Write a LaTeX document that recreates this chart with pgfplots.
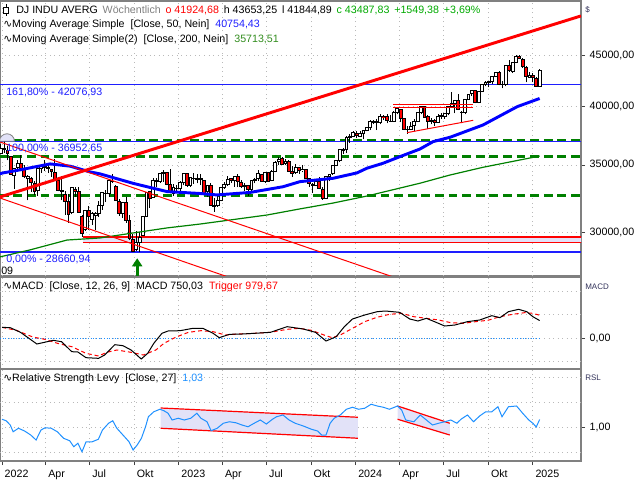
\documentclass[border=0pt]{standalone}
\usepackage{fontspec}
\setmainfont{Liberation Sans}
\newfontfamily\dejavu{DejaVu Sans}
\usepackage{pgfplots}
\usepackage{pgfplotstable}
\pgfplotsset{compat=1.18}
\usetikzlibrary{arrows.meta}

\definecolor{lav}{RGB}{226,226,248}
\definecolor{fgray}{RGB}{128,128,128}
\definecolor{dgreen}{RGB}{0,128,0}
\definecolor{hgreen}{RGB}{0,170,0}
\definecolor{ogreen}{RGB}{50,140,30}
\definecolor{dodger}{RGB}{30,144,255}
\definecolor{lblue}{RGB}{30,30,255}
\definecolor{lab}{RGB}{50,50,90}

% weekly candles, w = week index (0 = week of 3 Jan 2022)
\pgfplotstableread{
w o h l c
-1 35950 36680 35900 36338
0 36321 36953 35968 36231
1 36219 36513 35371 35912
2 35720 35760 34226 34265
3 34161 34712 33150 34725
4 34800 35407 34692 35089
5 35110 35824 34738 34738
6 34680 34988 33927 34079
7 33960 34200 32272 34059
8 33950 34067 32890 33615
9 33550 33716 32632 32944
10 33000 34835 32578 34755
11 34700 35063 34345 34861
12 34900 35372 34522 34818
13 34800 35092 34355 34721
14 34600 34675 34056 34451
15 34400 35493 33788 33811
16 33800 34066 32935 32977
17 33000 34117 32271 32899
18 32700 32934 31228 32197
19 32200 32740 30636 31262
20 31400 33213 31244 33213
21 33100 33244 32504 32900
22 32950 33273 31389 31393
23 31100 31234 29653 29888
24 30200 31519 30100 31501
25 31500 31851 30143 31097
26 30900 31420 30484 31338
27 31200 31400 30143 31288
28 31300 32238 31081 31900
29 31900 32910 31582 32845
30 32800 33043 32137 32803
31 32800 33812 32500 33761
32 33700 34281 33573 33706
33 33300 33400 32283 32283
34 32200 32360 31156 31318
35 31300 32175 31000 32151
36 32100 32509 30660 30822
37 30800 31200 29439 29590
38 29500 29900 28715 28726
39 28800 30058 28700 29297
40 29300 30039 28661 29635
41 29800 31100 29700 31083
42 31100 32889 31049 32861
43 32900 33000 31727 32403
44 32500 33987 32500 33748
45 33700 33988 33274 33746
46 33700 34365 33564 34347
47 34300 34595 33677 34430
48 34400 34430 33387 33476
49 33500 34712 32920 32920
50 32800 33537 32573 33204
51 33200 33387 32818 33147
52 33150 33740 32813 33631
53 33600 34342 33400 34303
54 34300 34300 33267 33375
55 33400 34033 33300 33978
56 33900 34335 33500 33926
57 33900 34245 33550 33869
58 33900 34257 33450 33827
59 33800 33800 32788 32817
60 32900 33400 32500 33391
61 33400 33572 31910 31910
62 31800 32420 31430 31862
63 31900 32570 31805 32238
64 32300 33274 32200 33274
65 33250 33619 33150 33485
66 33450 34082 33330 33886
67 33900 34000 33600 33809
68 33800 34104 33300 34098
69 34100 34250 33235 33674
70 33600 33800 33200 33301
71 33300 33600 33000 33427
72 33400 33450 32586 33093
73 33100 33800 32800 33763
74 33750 34000 33550 33877
75 33900 34588 33750 34299
76 34250 34300 33700 33727
77 33700 34408 33600 34408
78 34400 34450 33700 33735
79 33800 34630 33700 34509
80 34500 35300 34400 35228
81 35300 35679 35000 35460
82 35500 35679 35000 35066
83 35100 35500 35000 35281
84 35300 35400 34500 34500
85 34500 34900 34029 34347
86 34400 35070 34300 34838
87 34800 34850 34300 34577
88 34600 35000 34400 34618
89 34600 34700 33900 33964
90 33950 34000 33300 33508
91 33500 33600 32850 33408
92 33400 33900 33350 33670
93 33700 34050 33100 33127
94 33100 33300 32327 32418
95 32400 34100 32350 34061
96 34050 34300 33700 34283
97 34300 35000 34200 34947
98 34950 35400 34900 35390
99 35350 36300 35200 36246
100 36200 36400 35900 36248
101 36250 37400 36000 37306
102 37300 37600 36800 37385
103 37400 37800 37300 37690
104 37600 37800 37200 37466
105 37400 37800 37300 37593
106 37600 37900 37100 37864
107 37900 38200 37800 38109
108 38100 38800 37900 38654
109 38600 38800 38400 38671
110 38700 38900 37900 38628
111 38600 39300 38400 39131
112 39100 39200 38800 39087
113 39100 39300 38500 38723
114 38700 39200 38600 38715
115 38700 39600 38600 39475
116 39500 39900 39300 39807
117 39800 39800 38600 38904
118 38900 39000 37900 37983
119 38000 38300 37600 37986
120 38000 38600 37900 38240
121 38300 38900 37800 38676
122 38700 39500 38600 39513
123 39500 40080 39300 40004
124 40000 40100 39000 39070
125 39100 39200 38000 38686
126 38700 39000 38400 38799
127 38800 38900 38300 38589
128 38600 39300 38600 39150
129 39200 39400 38900 39119
130 39100 39400 38900 39375
131 39400 40100 39200 40001
132 40000 41400 40000 40288
133 40300 40600 39400 40590
134 40600 41200 39700 39737
135 39500 39600 38500 39498
136 39500 40700 39300 40660
137 40700 41200 40600 41175
138 41200 41600 41000 41563
139 41500 41600 40300 40345
140 40400 41400 40300 41394
141 41400 42100 41400 42063
142 42100 42400 41900 42313
143 42300 42400 41800 42353
144 42400 42900 42100 42864
145 42900 43300 42800 43276
146 43300 43400 42000 42114
147 42100 42400 41700 42052
148 42100 44000 41900 43989
149 44000 44500 43300 43445
150 43400 44300 43200 44297
151 44300 45000 44200 44911
152 44900 45070 44600 44643
153 44600 44700 43700 43828
154 43800 43900 42300 42840
155 42800 43300 42700 42992
156 43000 43200 42300 42732
157 42700 42800 41850 41938
158 41925 43653 41845 43488
}\candletab

\pgfplotsset{
  panel/.style={
    scale only axis, width=435.75pt, anchor=north west,
    xmin=-1.162, xmax=170.2,
    axis line style={draw=fgray, line width=0.9pt},
    tick align=outside, ytick pos=right, yticklabel pos=right,
    major tick length=3pt, minor tick num=0,
    tick style={draw=black!75, line width=0.6pt},
    tick label style={font=\fontsize{8}{9}\selectfont, black},
    grid=major,
    major grid style={draw=gray!55, line width=0.6pt, dash pattern=on 0.6pt off 2.8pt},
  },
  nolabelx/.style={
    xtick=\empty,
    extra x ticks={-0.571,12.29,25.29,38.43,51.57,64.43,77.43,90.57,103.71,116.71,129.71,142.86,156.0},
    extra x tick labels={},
    extra x tick style={major tick length=0pt, grid=major},
  },
}

\begin{document}
\begin{tikzpicture}[x=0.75pt, y=0.75pt, font=\fontsize{8}{9.6}\selectfont]
\path[use as bounding box] (0pt,0pt) rectangle (480pt,360pt);

% ---------- price panel ----------
\begin{axis}[panel, nolabelx, at={(0pt,359.25pt)}, height=206.25pt,
  ymode=log, ymin=27130, ymax=50970,
  ytick={30000,35000,40000,45000},
  yticklabels={{30000,00},{35000,00},{40000,00},{45000,00}},
]
\addplot[dgreen, line width=2.2pt, dash pattern=on 6.5pt off 3.7pt] coordinates {(-1.2,37010) (170.2,37010)};
\addplot[dgreen, line width=2.2pt, dash pattern=on 6.5pt off 3.7pt] coordinates {(-1.2,35679) (170.2,35679)};
\addplot[dgreen, line width=2.2pt, dash pattern=on 6.5pt off 3.7pt] coordinates {(-1.2,32600) (170.2,32600)};
\addplot[lblue, line width=0.9pt] coordinates {(-1.2,42076.93) (170.2,42076.93)};
\addplot[lblue, line width=0.9pt] coordinates {(-1.2,36952.65) (170.2,36952.65)};
\addplot[lblue, line width=0.9pt] coordinates {(-1.2,28660.94) (170.2,28660.94)};
\addplot[fill=lav, draw=none] coordinates {(23.3,29670) (171,29670) (171,29310) (23.3,29310)} --cycle;
\addplot[red, line width=0.9pt] coordinates {(23.3,29670) (171,29670)};
\addplot[red, line width=0.9pt] coordinates {(23.3,29310) (171,29310)};

\pgfplotsforeachungrouped \i in {0,...,159}{
  \pgfplotstablegetelem{\i}{w}\of\candletab \let\cw\pgfplotsretval
  \pgfplotstablegetelem{\i}{o}\of\candletab \let\co\pgfplotsretval
  \pgfplotstablegetelem{\i}{h}\of\candletab \let\ch\pgfplotsretval
  \pgfplotstablegetelem{\i}{l}\of\candletab \let\cl\pgfplotsretval
  \pgfplotstablegetelem{\i}{c}\of\candletab \let\cc\pgfplotsretval
  \ifnum\cc<\co\relax \def\cfill{red}\else \def\cfill{white}\fi
  \pgfmathsetmacro\wa{\cw-0.42}
  \pgfmathsetmacro\wb{\cw+0.42}
  \edef\next{%
    \noexpand\addplot[black, line width=0.6pt, forget plot] coordinates {(\cw,\cl) (\cw,\ch)};
    \noexpand\addplot[draw=black, fill=\cfill, line width=0.6pt, forget plot]
      coordinates {(\wa,\co) (\wb,\co) (\wb,\cc) (\wa,\cc)} --cycle;}
  \next
}

% moving averages
\addplot[dgreen, line width=0.9pt] coordinates {
(-1.2,28340) (7.7,28800) (18.6,29460) (28.3,29600) (38.1,29940) (48.1,30290)
(57.8,30560) (77.6,31200) (87.3,31640) (97.1,32070) (107.1,32590) (122.7,33560)
(131.6,34200) (141.3,34810) (158,35714)};
\addplot[blue, line width=2.2pt] coordinates {
(-1.2,34300) (-0.3,34360) (4.7,34600) (13.6,35080) (19.5,34900) (25.4,34440)
(28.3,34290) (38.1,33550) (48.1,32920) (57.8,32780) (62.8,32670) (72.6,32860)
(82.3,33290) (87.3,33680) (97.1,33940) (104.1,34360) (107.1,34740) (111.8,35130)
(116.8,35670) (122.7,36300) (126.6,36920) (131.6,37290) (141.3,38360)
(151.4,40000) (158,40754)};

% trend lines
\addplot[red, line width=2.2pt] coordinates {(-1.162,32520) (170.2,49250)};
\addplot[red, line width=0.75pt] coordinates {(-1.162,36890) (116,26980)};
\addplot[red, line width=0.75pt] coordinates {(-1.162,32440) (67.2,26984)};
\addplot[red, line width=0.75pt] coordinates {(114.8,40160) (138.4,40160)};
\addplot[red, line width=0.75pt] coordinates {(114.8,39950) (138.4,39950)};
\addplot[red, line width=0.75pt] coordinates {(118.9,37690) (138.4,38770)};

\draw[-{Triangle[width=7.5pt,length=6pt]}, line width=2.2pt, draw=dgreen, fill=dgreen]
  (axis cs:39.3,27100) -- (axis cs:39.3,28250);
\draw[fill=lav, draw=gray, line width=0.6pt] (axis cs:0.9,36953) ++(canvas cs:x=5.6pt,y=0pt)
  arc[start angle=0, end angle=180, radius=5.6pt] -- cycle;
\end{axis}

% ---------- MACD panel ----------
\begin{axis}[panel, nolabelx, at={(0pt,152.25pt)}, height=69pt,
  ymin=-1333, ymax=2623,
  ytick={0}, yticklabels={0{,}00},
  extra y ticks={-1000,1000,2000}, extra y tick labels={},
  extra y tick style={major tick length=0pt, grid=major},
]
\addplot[dodger, line width=0.7pt, dash pattern=on 0.8pt off 1.2pt] coordinates {(-1.2,0) (158,0)};
\addplot[red, line width=0.75pt, dash pattern=on 3pt off 2.2pt] coordinates {
(-0.56,459) (3.67,330) (8.5,43) (12.1,-57) (15.8,-229) (20.0,-373) (24.2,-659)
(27.9,-774) (30.3,-616) (33.3,-516) (37.5,-616) (41.1,-731) (44.8,-516) (47.2,-229)
(50.8,43) (54.4,244) (58.1,315) (61.7,272) (65.3,129) (69.0,172) (73.8,201)
(78.6,244) (83.5,373) (87.1,416) (90.7,330) (94.4,129) (96.8,14) (99.2,129)
(102.8,416) (106.4,702) (110.0,889) (113.7,1018) (117.3,1061) (120.9,917)
(124.6,846) (128.2,774) (131.8,659) (135.5,631) (139.1,702) (142.7,760)
(146.3,917) (150.0,1018) (153.6,1089) (156,1061) (158,980)};
\addplot[black, line width=0.75pt] coordinates {
(-0.56,459) (1.85,444) (4.88,244) (9.72,-258) (14.56,-100) (16.97,-158) (20.0,-588)
(21.8,-602) (24.2,-846) (27.9,-874) (29.7,-731) (32.7,-287) (35.1,-330) (37.5,-516)
(40.5,-903) (42.4,-659) (44.2,-229) (46.6,201) (48.4,301) (52.0,315) (55.7,416)
(58.7,416) (61.7,201) (63.5,14) (66.5,158) (70.2,172) (73.8,201) (78.6,244)
(83.5,487) (88.3,387) (91.9,244) (95.0,-129) (98.0,57) (100.4,487) (102.8,817)
(106.4,989) (110.1,1132) (112.5,1161) (116.7,1104) (119.7,817) (122.1,731)
(124.6,846) (127.0,702) (130.0,516) (133.0,559) (136.7,702) (140.3,774)
(143.9,960) (146.3,874) (148.8,1132) (151.8,1233) (154.2,1132) (156.0,917) (158,750)};
\end{axis}

% ---------- RSL panel ----------
\begin{axis}[panel, at={(0pt,83.25pt)}, height=69pt,
  ymin=0.864, ymax=1.232,
  ytick={1}, yticklabels={1{,}00},
  extra y ticks={0.9,1.1,1.2}, extra y tick labels={},
  extra y tick style={major tick length=0pt, grid=major},
  xtick pos=bottom,
  xtick={-0.571,12.29,25.29,38.43,51.57,64.43,77.43,90.57,103.71,116.71,129.71,142.86,156.0},
  xticklabels={2022,Apr,Jul,Okt,2023,Apr,Jul,Okt,2024,Apr,Jul,Okt,2025},
  xticklabel style={anchor=north west, xshift=-1.5pt},
]
\addplot[fill=lav, draw=none] coordinates {(46.2,1.076) (104.4,1.039) (104.4,0.955) (46.2,0.995)} --cycle;
\addplot[fill=lav, draw=none] coordinates {(116.1,1.084) (131.5,1.015) (131.5,0.968) (116.1,1.031)} --cycle;
\addplot[red, line width=0.9pt] coordinates {(46.2,1.076) (104.4,1.039)};
\addplot[red, line width=0.9pt] coordinates {(46.2,0.995) (104.4,0.955)};
\addplot[red, line width=0.9pt] coordinates {(116.1,1.084) (131.5,1.015)};
\addplot[red, line width=0.9pt] coordinates {(116.1,1.031) (131.5,0.968)};
\addplot[dodger, line width=0.75pt] coordinates {
(-0.56,1.031) (0.65,1.025) (1.86,1.008) (2.71,0.981) (4.28,0.995) (6.09,0.984) (7.9,0.968)
(9.48,0.948) (10.93,0.988) (12.14,0.997) (13.95,0.995) (15.76,0.981) (17.58,0.955)
(19.39,0.945) (20.6,0.921) (21.81,0.935) (23.02,0.901) (24.23,0.941) (26.04,0.941)
(27.85,0.951) (29.06,0.988) (30.87,1.015) (32.09,1.025) (33.3,0.995) (35.1,0.968)
(36.9,0.941) (38.1,0.908) (39.3,0.928) (40.55,0.955) (41.76,1.001) (42.6,1.041)
(44.2,1.061) (46.0,1.071) (47.2,1.065) (48.4,1.055) (49.6,1.028) (51.4,1.035)
(53.2,1.028) (55.1,1.035) (56.9,1.055) (58.1,1.035) (59.9,1.021) (61.1,0.985)
(62.9,0.995) (64.7,1.015) (66.5,1.021) (68.4,1.017) (70.2,1.008) (72.0,1.001)
(73.8,1.015) (75.6,1.028) (77.4,1.012) (79.2,1.031) (80.4,1.041) (82.3,1.048)
(84.1,1.028) (85.9,1.015) (88.3,1.004) (90.7,0.991) (92.5,0.984) (93.7,0.968)
(95.0,0.968) (96.2,1.015) (97.4,1.035) (99.2,1.048) (101.0,1.071) (102.8,1.079)
(104.6,1.071) (106.4,1.075) (108.3,1.091) (110.1,1.084) (111.9,1.079) (113.7,1.071)
(116.1,1.084) (117.3,1.068) (118.5,1.028) (120.9,1.021) (122.8,1.048) (124.6,1.028)
(126.4,1.008) (128.2,1.015) (130.0,1.021) (131.8,1.028) (133.6,1.015) (134.8,1.031)
(136.7,1.048) (138.5,1.021) (140.3,1.044) (142.1,1.061) (143.9,1.061) (145.7,1.081)
(146.9,1.041) (148.8,1.081) (151.2,1.084) (153.0,1.055) (154.8,1.028) (156.0,1.015)
(157,1.0) (158,1.03)};
\end{axis}

% ---------- texts ----------
\draw[black, line width=0.6pt] (6,476) -- (6,464);
\draw[black, fill=white, line width=0.6pt] (3.8,473) rectangle (8.2,467);
\node[anchor=west, inner sep=0] at (16,470) {DJ INDU AVERG\ \hspace{1.4pt}\textcolor{gray}{Wöchentlich}\ \hspace{1.4pt}\textcolor{red}{o 41924,68}\ \hspace{1.4pt}h 43653,25\ \hspace{1.4pt}l 41844,89\ \hspace{1.4pt}\textcolor{hgreen}{c 43487,83\ \hspace{1.4pt}+1549,38\ \hspace{1.4pt}+3,69\%}};
\node[anchor=west, inner sep=0] at (3,455) {{\dejavu ∿}Moving Average Simple\ \ [Close, 50, Nein]\ \ \textcolor{lblue}{40754,43}};
\node[anchor=west, inner sep=0] at (3,440) {{\dejavu ∿}Moving Average Simple(2)\ \ [Close, 200, Nein]\ \ \textcolor{ogreen}{35713,51}};
\node[anchor=west, inner sep=0, text=lblue] at (6,388) {161,80\% - 42076,93};
\node[anchor=west, inner sep=0, text=lblue] at (6,332) {100,00\% - 36952,65};
\node[anchor=west, inner sep=0, text=lblue] at (6,221) {0,00\% - 28660,94};
\node[anchor=west, inner sep=0] at (1,209) {09};
\node[anchor=west, inner sep=0] at (3,193) {{\dejavu ∿}MACD\ \ [Close, 12, 26, 9]\ \ MACD 750,03\ \ \textcolor{red}{Trigger 979,67}};
\node[anchor=west, inner sep=0] at (3,101) {{\dejavu ∿}Relative Strength Levy\ \ [Close, 27]\ \ \textcolor{dodger}{1,03}};
\node[anchor=west, inner sep=0, text=lab, font=\fontsize{6}{7}\selectfont] at (585,470) {\$};
\node[anchor=west, inner sep=0, text=lab, font=\fontsize{6}{7}\selectfont] at (585,193) {MACD};
\node[anchor=west, inner sep=0, text=lab, font=\fontsize{6}{7}\selectfont] at (585,102) {RSL};
\end{tikzpicture}
\end{document}
